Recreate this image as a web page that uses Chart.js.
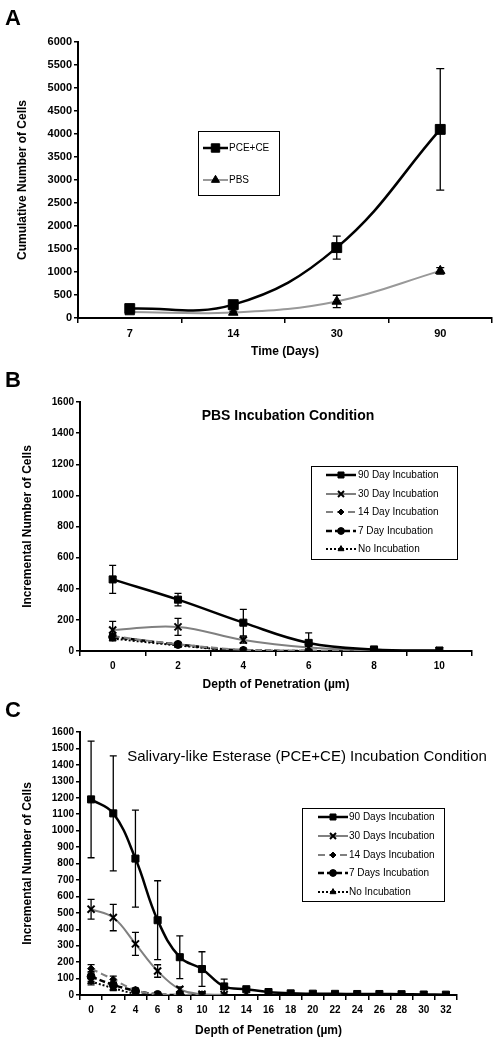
<!DOCTYPE html>
<html lang="en">
<head>
<meta charset="UTF-8">
<title>Cell penetration</title>
<script src="https://cdn.jsdelivr.net/npm/chart.js"></script>
<style>
  body { margin: 0; background: #fff; font-family: Arial, "Liberation Sans", sans-serif; }
  .pagina { position: relative; width: 500px; height: 1053px; }
  canvas { position: absolute; left: 0; }
  .letra { position: absolute; left: 5px; font-weight: bold; font-size: 22px; line-height: 1; }
</style>
</head>
<body>
<div class="pagina">
  <canvas id="graf_a" width="500" height="362" style="top:0px"></canvas>
  <canvas id="graf_b" width="500" height="332" style="top:362px"></canvas>
  <canvas id="graf_c" width="500" height="359" style="top:694px"></canvas>
  <div class="letra" style="top:7px">A</div>
  <div class="letra" style="top:369px">B</div>
  <div class="letra" style="top:699px">C</div>
</div>

<script>
// ---- panel A: cumulative cells ----
const diasA = ['7', '14', '30', '90'];
const pceCe = [205, 290, 1530, 4100];
const pceCeErro = [50, 60, 250, 1320];
const pbs = [130, 120, 360, 1025];
const pbsErro = [30, 30, 135, 70];

// ---- panel B: PBS incubation ----
const profB = ['0', '2', '4', '6', '8', '10'];
const b90 = [460, 330, 182, 52, 10, 3];
const b90Erro = [90, 40, 85, 65, 6, 0];
const b30 = [135, 155, 70, 22, 5, 2];
const b30Erro = [55, 55, 20, 0, 0, 0];
const b14 = [95, 44, 8, 3, 0];
const b7 = [90, 42, 3, 0];
const b7Erro = [25, 10, 0, 0];
const bNenhum = [80, 36, 2, 0];

// ---- panel C: salivary-like esterase incubation ----
const profC = ['0', '2', '4', '6', '8', '10', '12', '14', '16', '18', '20', '22', '24', '26', '28', '30', '32'];
const c90 = [1190, 1105, 830, 455, 230, 158, 52, 35, 18, 10, 8, 7, 6, 6, 5, 3, 2];
const c90Erro = [355, 350, 295, 240, 130, 105, 45, 10, 5, 0, 0, 0, 0, 0, 0, 0, 0];
const c30 = [522, 471, 311, 146, 35, 5, 2];
const c30Erro = [60, 80, 70, 38, 15, 5, 0];
const c14 = [160, 95, 30, 3, 0, 0];
const c14Erro = [25, 20, 10, 0, 0, 0];
const c7 = [112, 62, 26, 3, 0, 0];
const c7Erro = [30, 15, 10, 0, 0, 0];
const cNenhum = [82, 42, 8, 0, 0, 0, 0, 0];
const cNenhumErro = [20, 15, 0, 0, 0, 0, 0, 0];

const fonte = 'Arial, "Liberation Sans", sans-serif';
Chart.defaults.font.family = fonte;
Chart.defaults.color = '#000';

function desenhaPonto(ctx, opts, x, y) {
  if (Chart.helpers && Chart.helpers.drawPoint) {
    Chart.helpers.drawPoint(ctx, opts, x, y);
  }
}

const barrasErro = {
  id: 'barrasErro',
  afterDatasetsDraw(chart) {
    const ctx = chart.ctx;
    const ey = chart.scales.y;
    const area = chart.chartArea;
    ctx.save();
    ctx.beginPath();
    ctx.rect(area.left, area.top - 2, area.right - area.left, area.bottom - area.top + 2);
    ctx.clip();
    ctx.strokeStyle = '#000';
    ctx.lineWidth = 1.3;
    chart.data.datasets.forEach((ds, i) => {
      if (!ds.erros) return;
      const meta = chart.getDatasetMeta(i);
      meta.data.forEach((pt, j) => {
        const e = ds.erros[j];
        if (!e) return;
        const topo = ey.getPixelForValue(ds.data[j] + e);
        const base = ey.getPixelForValue(ds.data[j] - e);
        const w = ds.capa || 3.5;
        ctx.beginPath();
        ctx.moveTo(pt.x, topo); ctx.lineTo(pt.x, base);
        ctx.moveTo(pt.x - w, topo); ctx.lineTo(pt.x + w, topo);
        ctx.moveTo(pt.x - w, base); ctx.lineTo(pt.x + w, base);
        ctx.stroke();
      });
    });
    ctx.restore();
  }
};

const legendaCaixa = {
  id: 'legendaCaixa',
  afterDraw(chart, args, o) {
    if (!o || !o.caixa) return;
    const ctx = chart.ctx;
    const [bx, by, bw, bh] = o.caixa;
    ctx.save();
    ctx.fillStyle = '#fff';
    ctx.fillRect(bx, by, bw, bh);
    ctx.strokeStyle = '#000';
    ctx.lineWidth = 1;
    ctx.strokeRect(bx + 0.5, by + 0.5, bw, bh);
    chart.data.datasets.forEach((ds, i) => {
      const ly = o.linhas[i];
      ctx.strokeStyle = ds.borderColor;
      ctx.lineWidth = ds.borderWidth;
      ctx.setLineDash(ds.borderDash || []);
      ctx.beginPath();
      ctx.moveTo(o.traco[0], ly);
      ctx.lineTo(o.traco[1], ly);
      ctx.stroke();
      ctx.setLineDash([]);
      ctx.fillStyle = ds.pointBackgroundColor;
      ctx.strokeStyle = ds.pointBorderColor;
      ctx.lineWidth = ds.pointBorderWidth;
      desenhaPonto(ctx, {pointStyle: ds.pointStyle, radius: ds.pointRadius * 0.85, rotation: 0, borderWidth: ds.pointBorderWidth},
        (o.traco[0] + o.traco[1]) / 2, ly);
      ctx.fillStyle = '#000';
      ctx.font = '10px ' + fonte;
      ctx.textBaseline = 'middle';
      ctx.textAlign = 'left';
      ctx.fillText(ds.label, o.textoX, ly + 0.5);
    });
    ctx.restore();
  }
};

const tituloInterno = {
  id: 'tituloInterno',
  afterDraw(chart, args, o) {
    if (!o || !o.texto) return;
    const ctx = chart.ctx;
    ctx.save();
    ctx.fillStyle = '#000';
    ctx.font = o.fonte + ' ' + fonte;
    ctx.textAlign = 'center';
    ctx.textBaseline = 'middle';
    ctx.fillText(o.texto, o.x, o.y);
    ctx.restore();
  }
};

function serie(label, data, erros, estilo) {
  return Object.assign({
    label: label,
    data: data,
    erros: erros,
    borderColor: '#000',
    borderWidth: 2,
    pointBackgroundColor: '#000',
    pointBorderColor: '#000',
    pointBorderWidth: 1,
    pointRadius: 4,
    pointHoverRadius: 4,
    tension: 0.4,
    fill: false
  }, estilo);
}

function eixos(o) {
  return {
    x: {
      type: 'category',
      offset: true,
      grid: {offset: true, drawOnChartArea: false, color: '#000', lineWidth: 1.5, tickLength: 5},
      border: {color: '#000', width: 2},
      ticks: {font: {size: o.tick, weight: 'bold'}, padding: 4, maxRotation: 0, autoSkip: false},
      title: {display: true, text: o.xTitulo, font: {size: 12, weight: 'bold'}, padding: {top: 0, bottom: o.xTitPad}},
      afterFit: s => { s.height = o.xAltura; }
    },
    y: {
      min: 0,
      max: o.yMax,
      ticks: {stepSize: o.yPasso, font: {size: o.tick, weight: 'bold'}, padding: 2, autoSkip: false,
        callback: v => String(v)},
      grid: {drawOnChartArea: false, color: '#000', lineWidth: 1.5, tickLength: 4},
      border: {color: '#000', width: 2},
      title: {display: true, text: o.yTitulo, font: {size: 12, weight: 'bold'}, padding: {top: o.yTitPad, bottom: 0}},
      afterFit: s => { s.width = o.yLargura; }
    }
  };
}

const cinza = '#808080';

function seriesIncubacao(nomes, d90, e90, d30, e30, d14, e14, d7, e7, dN, eN) {
  return [
    serie(nomes[0], d90, e90, {borderWidth: 2.5, pointStyle: 'rect', pointRadius: 5}),
    serie(nomes[1], d30, e30, {borderColor: cinza, pointStyle: 'crossRot', pointRadius: 5, pointBorderWidth: 2}),
    serie(nomes[2], d14, e14, {borderColor: cinza, borderDash: [7, 4], pointStyle: 'rectRot', pointRadius: 3.5}),
    serie(nomes[3], d7, e7, {borderWidth: 2.5, borderDash: [6, 3], pointStyle: 'circle', pointRadius: 4}),
    serie(nomes[4], dN, eN, {borderDash: [2, 2], pointStyle: 'triangle', pointRadius: 4})
  ];
}

new Chart(document.getElementById('graf_a'), {
  type: 'line',
  data: {
    labels: diasA,
    datasets: [
      serie('PCE+CE', pceCe, pceCeErro, {borderWidth: 2.5, pointStyle: 'rect', pointRadius: 7, capa: 4}),
      serie('PBS', pbs, pbsErro, {borderColor: '#999', pointStyle: 'triangle', pointRadius: 5.5, capa: 4})
    ]
  },
  options: {
    responsive: false,
    animation: false,
    layout: {padding: {top: 42, right: 5, left: 0, bottom: 0}},
    scales: eixos({xTitulo: 'Time (Days)', yTitulo: 'Cumulative Number of Cells', yMax: 6000, yPasso: 500,
      tick: 11, xAltura: 44, xTitPad: 3, yLargura: 78, yTitPad: 15}),
    plugins: {
      legend: {display: false},
      tooltip: {enabled: false},
      legendaCaixa: {caixa: [198, 131, 81, 64], linhas: [148, 180], traco: [203, 228], textoX: 229}
    }
  },
  plugins: [barrasErro, legendaCaixa]
});

new Chart(document.getElementById('graf_b'), {
  type: 'line',
  data: {
    labels: profB,
    datasets: seriesIncubacao(
      ['90 Day Incubation', '30 Day Incubation', '14 Day Incubation', '7 Day Incubation', 'No Incubation'],
      b90, b90Erro, b30, b30Erro, b14, null, b7, b7Erro, bNenhum, null)
  },
  options: {
    responsive: false,
    animation: false,
    layout: {padding: {top: 40, right: 28, left: 0, bottom: 0}},
    scales: eixos({xTitulo: 'Depth of Penetration (\u00b5m)', yTitulo: 'Incremental Number of Cells', yMax: 1600, yPasso: 200,
      tick: 10, xAltura: 43, xTitPad: 2, yLargura: 80, yTitPad: 20}),
    plugins: {
      legend: {display: false},
      tooltip: {enabled: false},
      tituloInterno: {texto: 'PBS Incubation Condition', fonte: 'bold 14px', x: 288, y: 54},
      legendaCaixa: {caixa: [311, 104, 146, 93], linhas: [113, 132, 150, 169, 187], traco: [326, 356], textoX: 358}
    }
  },
  plugins: [barrasErro, legendaCaixa, tituloInterno]
});

new Chart(document.getElementById('graf_c'), {
  type: 'line',
  data: {
    labels: profC,
    datasets: seriesIncubacao(
      ['90 Days Incubation', '30 Days Incubation', '14 Days Incubation', '7 Days Incubation', 'No Incubation'],
      c90, c90Erro, c30, c30Erro, c14, c14Erro, c7, c7Erro, cNenhum, cNenhumErro)
  },
  options: {
    responsive: false,
    animation: false,
    layout: {padding: {top: 38, right: 43, left: 0, bottom: 0}},
    scales: eixos({xTitulo: 'Depth of Penetration (\u00b5m)', yTitulo: 'Incremental Number of Cells', yMax: 1600, yPasso: 100,
      tick: 10, xAltura: 58, xTitPad: 15, yLargura: 80, yTitPad: 20}),
    plugins: {
      legend: {display: false},
      tooltip: {enabled: false},
      tituloInterno: {texto: 'Salivary-like Esterase (PCE+CE) Incubation Condition', fonte: '15px', x: 307, y: 63},
      legendaCaixa: {caixa: [302, 114, 142, 93], linhas: [123, 142, 161, 179, 198], traco: [318, 348], textoX: 349}
    }
  },
  plugins: [barrasErro, legendaCaixa, tituloInterno]
});
</script>
</body>
</html>
